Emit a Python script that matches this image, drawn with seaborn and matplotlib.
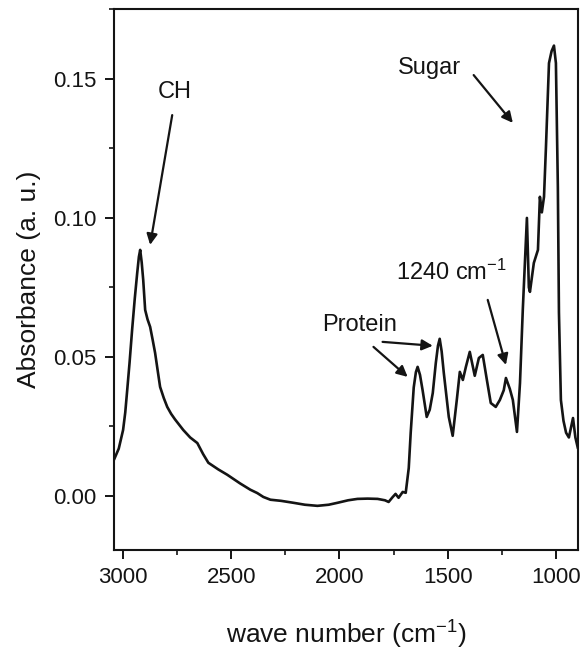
import matplotlib
matplotlib.use("Agg")
import matplotlib.pyplot as plt
from matplotlib.ticker import MultipleLocator, FormatStrFormatter
import seaborn as sns
import pandas as pd

# FTIR absorbance spectrum
wavenumber = [3042, 3020, 3000, 2990, 2981, 2970, 2958, 2946, 2935, 2927,
              2921, 2914, 2907, 2898, 2887, 2875, 2863, 2852, 2840, 2829,
              2812, 2796, 2778, 2760, 2740, 2722, 2690, 2657, 2630, 2606,
              2560, 2519, 2460, 2412, 2380, 2352, 2319, 2270, 2213, 2160,
              2102, 2050, 2009, 1960, 1917, 1870, 1824, 1790, 1773, 1755,
              1741, 1727, 1708, 1694, 1680, 1671, 1657, 1647, 1639, 1628,
              1616, 1597, 1583, 1569, 1555, 1545, 1537, 1528, 1518, 1495,
              1477, 1458, 1444, 1430, 1416, 1398, 1375, 1356, 1338, 1319,
              1301, 1278, 1259, 1241, 1231, 1213, 1199, 1180, 1166, 1153,
              1134, 1125, 1120, 1102, 1083, 1074, 1065, 1055, 1046, 1032,
              1020, 1009, 1000, 991, 986, 977, 965, 953, 940, 921,
              910, 898]
absorbance = [0.013, 0.017, 0.0237, 0.030, 0.038, 0.048, 0.060, 0.071, 0.080, 0.086,
              0.0885, 0.084, 0.0777, 0.0669, 0.0635, 0.0608, 0.056, 0.0514, 0.045, 0.0392,
              0.0352, 0.032, 0.0295, 0.0275, 0.0255, 0.0237, 0.021, 0.019, 0.0150, 0.0119,
              0.0095, 0.0076, 0.0045, 0.0022, 0.001, -0.0004, -0.0014, -0.0018, -0.0025, -0.0032,
              -0.0036, -0.0032, -0.0025, -0.0016, -0.0011, -0.0010, -0.0011, -0.0016, -0.0022, -0.0005,
              0.0007, -0.0007, 0.0014, 0.0011, 0.010, 0.0227, 0.039, 0.0445, 0.0464, 0.0435,
              0.038, 0.0284, 0.031, 0.037, 0.0478, 0.054, 0.0565, 0.052, 0.0442, 0.0284,
              0.0216, 0.0345, 0.0446, 0.0417, 0.0464, 0.0518, 0.0432, 0.0496, 0.0507, 0.0417,
              0.0334, 0.032, 0.0345, 0.038, 0.0424, 0.0385, 0.0345, 0.023, 0.0406, 0.067,
              0.100, 0.075, 0.0734, 0.0838, 0.0885, 0.1076, 0.102, 0.1076, 0.1255, 0.1557,
              0.160, 0.162, 0.1557, 0.111, 0.066, 0.0345, 0.0270, 0.0227, 0.021, 0.028,
              0.021, 0.017]

# Band annotations
band_labels = ["CH", "Sugar", "1240 cm$^{-1}$", "Protein"]

sns.set_theme(style="ticks")
plt.rcParams["font.family"] = ["Liberation Sans", "DejaVu Sans"]
plt.rcParams["mathtext.fontset"] = "custom"
plt.rcParams["mathtext.rm"] = "Liberation Sans"
plt.rcParams["mathtext.it"] = "Liberation Sans"

ink = "#141414"

fig = plt.figure(figsize=(5.84, 6.5), dpi=100)
ax = fig.add_axes([0.1952, 0.1538, 0.7945, 0.8316])

df = pd.DataFrame({"wn": wavenumber, "A": absorbance})
sns.lineplot(data=df, x="wn", y="A", sort=False, color=ink, lw=1.9, ax=ax)

ax.set_xlim(3042, 898)
ax.set_ylim(-0.0195, 0.175)
ax.xaxis.set_major_locator(MultipleLocator(500))
ax.xaxis.set_minor_locator(MultipleLocator(250))
ax.yaxis.set_major_locator(MultipleLocator(0.05))
ax.yaxis.set_minor_locator(MultipleLocator(0.025))
ax.yaxis.set_major_formatter(FormatStrFormatter("%.2f"))

for s in ax.spines.values():
    s.set_linewidth(1.5)
    s.set_color(ink)
ax.tick_params(which="major", direction="out", length=6.5, width=1.4,
               labelsize=16, colors=ink, pad=6)
ax.tick_params(which="minor", direction="out", length=3.5, width=1.2,
               colors=ink)

ax.set_xlabel("wave number (cm$^{-1}$)", fontsize=19, labelpad=22, color=ink)
ax.set_ylabel("Absorbance (a. u.)", fontsize=19, labelpad=9, color=ink)

arrow = dict(arrowstyle="-|>", lw=1.6, color=ink, mutation_scale=16,
             shrinkA=0, shrinkB=0)
tfont = dict(fontsize=17, color=ink, ha="left", va="center")

ax.text(2838, 0.1453, band_labels[0], **tfont)
ax.annotate("", xy=(2875, 0.0903), xytext=(2773, 0.137), arrowprops=arrow)

ax.text(1731, 0.1540, band_labels[1], **tfont)
ax.annotate("", xy=(1199, 0.1342), xytext=(1380, 0.1514), arrowprops=arrow)

ax.text(1741, 0.0806, band_labels[2], **tfont)
ax.annotate("", xy=(1231, 0.0471), xytext=(1315, 0.0705), arrowprops=arrow)

ax.text(2079, 0.0615, band_labels[3], **tfont)
ax.annotate("", xy=(1685, 0.0428), xytext=(1843, 0.0536), arrowprops=arrow)
ax.annotate("", xy=(1569, 0.0540), xytext=(1801, 0.0554), arrowprops=arrow)

fig.savefig("out.png", dpi=100)
